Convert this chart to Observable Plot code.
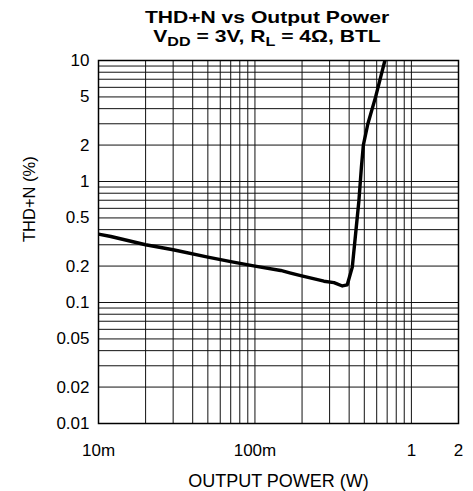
<!DOCTYPE html>
<html>
<head>
<meta charset="utf-8">
<script src="https://cdn.jsdelivr.net/npm/d3@7"></script>
<script src="https://cdn.jsdelivr.net/npm/@observablehq/plot@0.6"></script>
<style>
  html, body { margin: 0; padding: 0; background: #fff; }
  body { width: 473px; height: 491px; font-family: "Liberation Sans", Arial, sans-serif; overflow: hidden; }
  #title { height: 48px; box-sizing: border-box; padding-top: 8px; font-weight: bold; font-size: 17px; line-height: 19px; color: #000; }
  #title .ln { width: 473px; height: 19px; box-sizing: border-box; padding-left: 61px; text-align: center; transform: scaleX(1.24); transform-origin: 267px 50%; white-space: nowrap; }
  #title sub { font-size: 13px; vertical-align: -4px; line-height: 0; }
  svg { display: block; }
</style>
</head>
<body>
<div id="title"><div class="ln">THD+N vs Output Power</div><div class="ln">V<sub>DD</sub> = 3V, R<sub>L</sub> = 4Ω, BTL</div></div>
<div id="chart"></div>
<script>
// Measured curve (Output power in W, THD+N in %)
const power = [0.01, 0.012, 0.02, 0.03, 0.05, 0.07, 0.1, 0.146, 0.169, 0.196, 0.276, 0.32, 0.362, 0.389, 0.419, 0.44, 0.462, 0.479, 0.493, 0.527, 0.59, 0.636, 0.677, 0.69];
const thdn  = [0.367, 0.351, 0.300, 0.273, 0.237, 0.218, 0.200, 0.184, 0.175, 0.167, 0.150, 0.146, 0.137, 0.140, 0.196, 0.370, 0.697, 1.31, 2.0, 3.0, 4.98, 7.28, 10, 11];

// Axis tick values & labels
const xTicks = [0.01, 0.1, 1, 2];
const xTickLabels = ["10m", "100m", "1", "2"];
const yTicks = [0.01, 0.02, 0.05, 0.1, 0.2, 0.5, 1, 2, 5, 10];
const yTickLabels = ["0.01", "0.02", "0.05", "0.1", "0.2", "0.5", "1", "2", "5", "10"];
const xLabel = "OUTPUT POWER (W)";
const yLabel = "THD+N (%)";

const xDomain = [0.01, 2];
const yDomain = [0.01, 10];

// log grid: 1..9 per decade
function logGrid(lo, hi) {
  const out = [];
  for (let e = Math.floor(Math.log10(lo)); e <= Math.ceil(Math.log10(hi)); e++) {
    for (let m = 1; m <= 9; m++) {
      const v = +(m * Math.pow(10, e)).toPrecision(6);
      if (v >= lo * 0.9999 && v <= hi * 1.0001) out.push(v);
    }
  }
  return out;
}
const xGrid = logGrid(xDomain[0], xDomain[1]);
const yGrid = logGrid(yDomain[0], yDomain[1]);

const data = power.map((p, i) => ({p, t: thdn[i]}));
const xTickData = xTicks.map((v, i) => ({v, label: xTickLabels[i]}));
const yTickData = yTicks.map((v, i) => ({v, label: yTickLabels[i]}));

const chart = Plot.plot({
  width: 473,
  height: 443,
  marginTop: 12,
  marginBottom: 68,
  marginLeft: 98,
  marginRight: 15,
  style: {fontFamily: '"Liberation Sans", Arial, sans-serif', fontSize: "17px", color: "#000", background: "#fff"},
  x: {type: "log", domain: xDomain, axis: null},
  y: {type: "log", domain: yDomain, axis: null},
  marks: [
    Plot.ruleX(xGrid, {stroke: "#111", strokeWidth: 1}),
    Plot.ruleY(yGrid, {stroke: "#111", strokeWidth: 1}),
    Plot.line(data, {x: "p", y: "t", stroke: "#000", strokeWidth: 3.4, clip: true, strokeLinejoin: "round"}),
    Plot.frame({stroke: "#000", strokeWidth: 1.5}),
    Plot.text(xTickData, {x: "v", text: "label", frameAnchor: "bottom", dy: 20, lineAnchor: "top", fontSize: 17, fill: "#000"}),
    Plot.text(yTickData, {y: "v", text: "label", frameAnchor: "left", dx: -9, textAnchor: "end", lineAnchor: "middle", fontSize: 17, fill: "#000"}),
    Plot.text([xLabel], {text: d => d, frameAnchor: "bottom", dy: 58, lineAnchor: "middle", fontSize: 18, fill: "#000"}),
    Plot.text([yLabel], {text: d => d, frameAnchor: "left", dx: -69, rotate: -90, lineAnchor: "middle", fontSize: 16.5, fill: "#000"})
  ]
});
document.getElementById("chart").appendChild(chart);
</script>
</body>
</html>
